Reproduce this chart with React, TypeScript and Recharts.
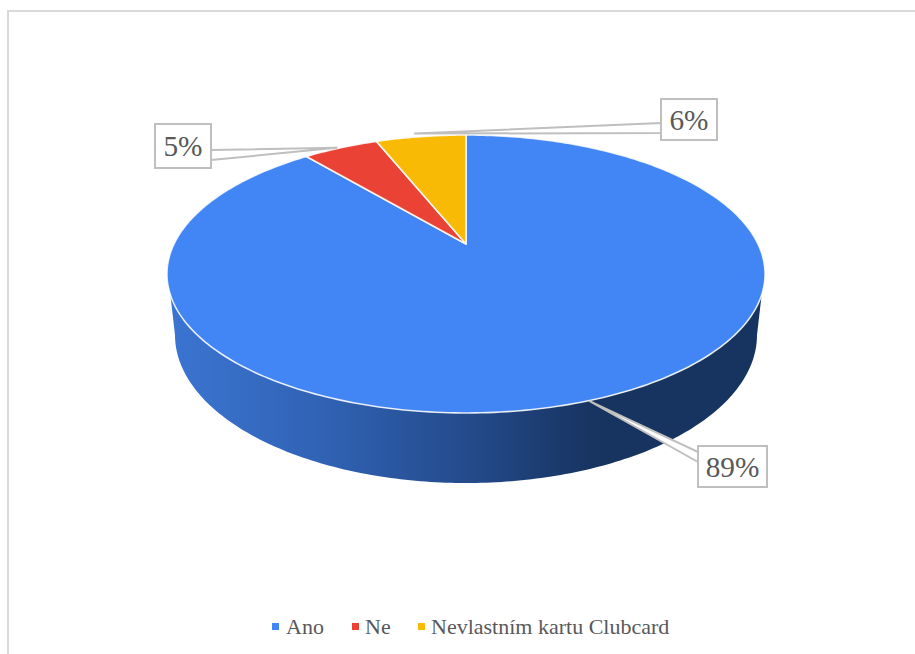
import React from "react";
import { PieChart, Pie, Legend } from "recharts";

// Survey shares: does the respondent own a Clubcard
const categories = ["Ano", "Ne", "Nevlastním kartu Clubcard"];
const shares = [89, 5, 6];
const colors = ["#4285F4", "#EA4335", "#F9BA05"];

const rows = categories.map((name, i) => ({ name, value: shares[i], fill: colors[i] }));

const WIDTH = 915;
const HEIGHT = 654;
const SERIF = "'Liberation Serif', 'Times New Roman', serif";

// Perspective disc: the pie's centre sits above the centre of the drawn ellipse
const CX = 466;
const CY = 244;
const PERSP = 0.2158;
const SPREAD_X = 292;
const SPREAD_Y = 132.5;

// Lower edge of the disc, relative to the pie's centre
const BASE_DROP = 91;
const BASE_RX = 291;
const BASE_RY = 148;
// The wall shows only on this stretch of the rim
const WALL_FROM = -159.2;
const WALL_TO = -20.8;

const rad = (deg: number) => (deg * Math.PI) / 180;

function rim(cx: number, cy: number, deg: number) {
  const u = Math.cos(rad(deg));
  const v = Math.sin(rad(deg));
  const w = 1 + PERSP * v;
  return { x: cx + (SPREAD_X * u) / w, y: cy - (SPREAD_Y * v) / w };
}

function arcPoints(cx: number, cy: number, from: number, to: number) {
  const steps = Math.max(2, Math.ceil(Math.abs(to - from)));
  const pts: { x: number; y: number }[] = [];
  for (let i = 0; i <= steps; i++) {
    pts.push(rim(cx, cy, from + ((to - from) * i) / steps));
  }
  return pts;
}

function baseArc(cx: number, cy: number) {
  const pts: { x: number; y: number }[] = [];
  for (let deg = -180; deg <= 0; deg += 1) {
    pts.push({
      x: cx + BASE_RX * Math.cos(rad(deg)),
      y: cy + BASE_DROP - BASE_RY * Math.sin(rad(deg)),
    });
  }
  return pts;
}

const toPath = (pts: { x: number; y: number }[]) =>
  pts.map((p, i) => `${i ? "L" : "M"}${p.x.toFixed(2)},${p.y.toFixed(2)}`).join(" ");

// Flat top of a slice
function TopSlice(props: any) {
  const { cx, cy, startAngle, endAngle, fill } = props;
  const d = `M${cx},${cy} ${toPath(arcPoints(cx, cy, startAngle, endAngle)).replace("M", "L")} Z`;
  return <path d={d} fill={fill} stroke="#FFFFFF" strokeOpacity={0.85} strokeWidth={1.6} strokeLinejoin="round" />;
}

// Outer wall of a slice; the other slices face away from the viewer
function WallSlice(props: any) {
  const { cx, cy, startAngle, endAngle } = props;
  const lo = Math.max(Math.min(startAngle, endAngle), WALL_FROM);
  const hi = Math.min(Math.max(startAngle, endAngle), WALL_TO);
  if (lo >= hi) return <g />;
  const upper = arcPoints(cx, cy, hi, lo);
  return <path d={`${toPath(upper)} ${toPath(baseArc(cx, cy)).replace("M", "L")} Z`} fill="url(#wallShade)" />;
}

// Where each callout box sits, where its pointer starts and a small shift of the tip
const calloutBoxes = [
  { x: 698, y: 446, w: 69, h: 41, rootX: 698, rootY: [452, 462], tipDx: 0, tipDy: 1 },
  { x: 155, y: 124, w: 56, h: 44, rootX: 211, rootY: [150, 160], tipDx: -4, tipDy: 0 },
  { x: 661, y: 99, w: 56, h: 41, rootX: 661, rootY: [123, 133], tipDx: -6, tipDy: -3 },
];

function Callout(props: any) {
  const { cx, cy, midAngle, index, value } = props;
  const box = calloutBoxes[index];
  const edge = rim(cx, cy, midAngle);
  const tipX = edge.x + box.tipDx;
  const tipY = edge.y + box.tipDy;
  return (
    <g>
      <polygon
        points={`${box.rootX},${box.rootY[0]} ${tipX},${tipY} ${box.rootX},${box.rootY[1]}`}
        fill="#FFFFFF"
        stroke="#BFBFBF"
        strokeWidth={2}
        strokeLinejoin="round"
      />
      <rect x={box.x} y={box.y} width={box.w} height={box.h} fill="#FFFFFF" stroke="#BFBFBF" strokeWidth={2} />
      <text
        x={box.x + box.w / 2}
        y={box.y + box.h / 2 + 10}
        textAnchor="middle"
        style={{ fontFamily: SERIF, fontSize: 29.3 }}
        fill="#595959"
      >
        {`${value}%`}
      </text>
    </g>
  );
}

const legendOffsets = [272, 352, 418];

function LegendRow() {
  return (
    <svg width={WIDTH} height={40} style={{ display: "block" }}>
      {categories.map((name, i) => (
        <g key={name}>
          <rect x={legendOffsets[i]} y={13} width={7} height={7} fill={colors[i]} />
          <text
            x={legendOffsets[i] + (i === 0 ? 14 : 13)}
            y={24}
            style={{ fontFamily: SERIF, fontSize: 22 }}
            fill="#595959"
          >
            {name}
          </text>
        </g>
      ))}
    </svg>
  );
}

export default function App() {
  return (
    <div style={{ position: "absolute", left: 0, top: 0, width: WIDTH, height: HEIGHT, background: "#FFFFFF", overflow: "hidden" }}>
      <div
        style={{
          position: "absolute",
          left: 7,
          top: 10,
          width: 960,
          height: 700,
          border: "2px solid #D9D9D9",
          boxSizing: "border-box",
        }}
      />
      <PieChart width={WIDTH} height={HEIGHT} margin={{ top: 0, right: 0, bottom: 0, left: 0 }} style={{ position: "absolute", left: 0, top: 0 }}>
        <defs>
          <linearGradient id="wallShade" gradientUnits="userSpaceOnUse" x1={167} y1={0} x2={765} y2={0}>
            <stop offset="0" stopColor="#3B75D2" />
            <stop offset="0.25" stopColor="#3163B6" />
            <stop offset="0.5" stopColor="#244B8C" />
            <stop offset="0.72" stopColor="#17335F" />
            <stop offset="1" stopColor="#17335F" />
          </linearGradient>
        </defs>
        <Pie
          data={rows}
          dataKey="value"
          nameKey="name"
          cx={CX}
          cy={CY}
          outerRadius={130}
          startAngle={90}
          endAngle={-270}
          legendType="none"
          shape={WallSlice}
          label={false}
          isAnimationActive={false}
        />
        <Pie
          data={rows}
          dataKey="value"
          nameKey="name"
          cx={CX}
          cy={CY}
          outerRadius={130}
          startAngle={90}
          endAngle={-270}
          shape={TopSlice}
          label={Callout}
          labelLine={false}
          isAnimationActive={false}
        />
        <Legend
          content={LegendRow}
          wrapperStyle={{ position: "absolute", left: 0, top: 610, width: WIDTH, height: 40 }}
        />
      </PieChart>
    </div>
  );
}
